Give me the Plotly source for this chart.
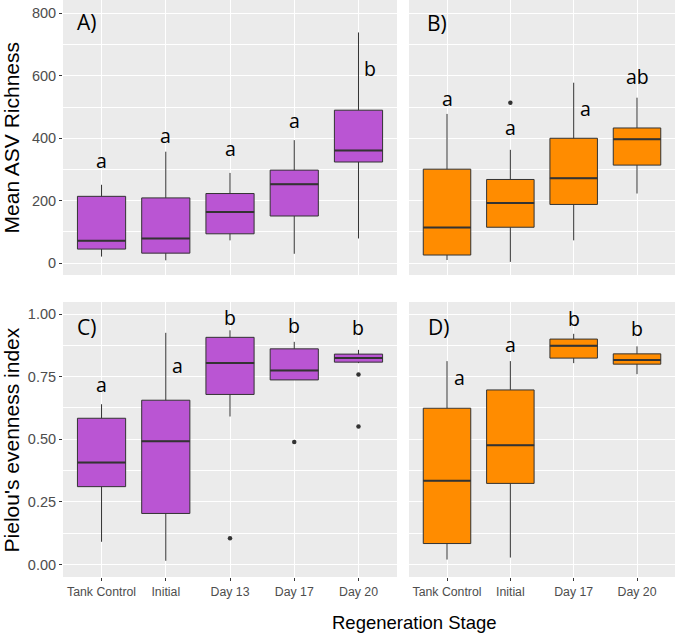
import plotly.graph_objects as go

# ---------------- data ----------------
cats_purple = ["Tank Control", "Initial", "Day 13", "Day 17", "Day 20"]
cats_orange = ["Tank Control", "Initial", "Day 17", "Day 20"]

# Panel A: Mean ASV richness (purple)
A_lo = [21, 9, 73, 30, 79]
A_q1 = [45, 32, 94, 151, 324]
A_med = [72, 79, 164, 253, 361]
A_q3 = [214, 209, 223, 298, 490]
A_hi = [251, 357, 289, 394, 739]
A_out_x = []
A_out_y = []
A_letters = ["a", "a", "a", "a", "b"]
A_letter_y = [329, 408, 366, 457, 625]
A_letter_side = [0, 0, 0, 0, 1]

# Panel B: Mean ASV richness (orange)
B_lo = [10, 4, 73, 223]
B_q1 = [26, 115, 188, 314]
B_med = [114, 193, 272, 397]
B_q3 = [301, 268, 400, 433]
B_hi = [478, 363, 578, 530]
B_out_x = ["Initial"]
B_out_y = [514]
B_letters = ["a", "a", "a", "ab"]
B_letter_y = [528, 435, 494, 597]
B_letter_side = [0, 0, 1, 0]

# Panel C: Pielou's evenness (purple)
C_lo = [0.091, 0.015, 0.591, 0.737, 0.804]
C_q1 = [0.311, 0.204, 0.679, 0.737, 0.808]
C_med = [0.407, 0.492, 0.805, 0.775, 0.824]
C_q3 = [0.584, 0.656, 0.907, 0.861, 0.840]
C_hi = [0.640, 0.925, 0.935, 0.889, 0.857]
C_out_x = ["Day 13", "Day 17", "Day 20", "Day 20"]
C_out_y = [0.105, 0.489, 0.759, 0.551]
C_letters = ["a", "a", "b", "b", "b"]
C_letter_y = [0.720, 0.796, 0.988, 0.955, 0.947]
C_letter_side = [0, 1, 0, 0, 0]

# Panel D: Pielou's evenness (orange)
D_lo = [0.020, 0.028, 0.804, 0.760]
D_q1 = [0.084, 0.324, 0.824, 0.800]
D_med = [0.335, 0.476, 0.873, 0.817]
D_q3 = [0.624, 0.697, 0.900, 0.841]
D_hi = [0.812, 0.812, 0.921, 0.871]
D_out_x = []
D_out_y = []
D_letters = ["a", "a", "b", "b"]
D_letter_y = [0.747, 0.877, 0.984, 0.941]
D_letter_side = [1, 0, 0, 0]

panel_labels = ["A)", "B)", "C)", "D)"]
richness_ticks = [0, 200, 400, 600, 800]
evenness_ticks = [0.0, 0.25, 0.50, 0.75, 1.00]

# ---------------- styling ----------------
PURPLE = "#BA55D3"
ORANGE = "#FF8C00"
EDGE = "#333333"
BOXW = 0.75
TICKFONT = dict(family="Liberation Sans, Arial, sans-serif", size=14.5, color="#4D4D4D")
XTICKFONT = dict(family="Liberation Sans, Arial, sans-serif", size=12.3, color="#4D4D4D")
LETTERFONT = dict(family="Open Sans, sans-serif", size=19.5, color="black")

fig = go.Figure()
annotations = []
shapes = []

panels = [
    (cats_purple, A_lo, A_q1, A_med, A_q3, A_hi, A_out_x, A_out_y, A_letters, A_letter_y, A_letter_side, PURPLE, "x", "y"),
    (cats_orange, B_lo, B_q1, B_med, B_q3, B_hi, B_out_x, B_out_y, B_letters, B_letter_y, B_letter_side, ORANGE, "x2", "y2"),
    (cats_purple, C_lo, C_q1, C_med, C_q3, C_hi, C_out_x, C_out_y, C_letters, C_letter_y, C_letter_side, PURPLE, "x3", "y3"),
    (cats_orange, D_lo, D_q1, D_med, D_q3, D_hi, D_out_x, D_out_y, D_letters, D_letter_y, D_letter_side, ORANGE, "x4", "y4"),
]

for (cats, lo, q1, med, q3, hi, ox, oy, letters, ly, lside, color, xa, ya) in panels:
    fig.add_trace(go.Box(
        x=cats, q1=q1, median=med, q3=q3, lowerfence=lo, upperfence=hi,
        fillcolor=color, line=dict(color=EDGE, width=1), boxpoints=False,
        width=BOXW, whiskerwidth=0, xaxis=xa, yaxis=ya, showlegend=False,
        hoverinfo="skip",
    ))
    # thicker median lines (ggplot style)
    for i, m in enumerate(med):
        shapes.append(dict(type="line", xref=xa, yref=ya,
                           x0=i - BOXW / 2, x1=i + BOXW / 2, y0=m, y1=m,
                           line=dict(color=EDGE, width=2)))
    if ox:
        fig.add_trace(go.Scatter(
            x=ox, y=oy, mode="markers", marker=dict(color=EDGE, size=4.5),
            xaxis=xa, yaxis=ya, showlegend=False, hoverinfo="skip",
        ))
    for c, t, y, s in zip(cats, letters, ly, lside):
        annotations.append(dict(x=c, y=y, xref=xa, yref=ya, text=t,
                                showarrow=False, font=LETTERFONT,
                                xanchor="center", yanchor="middle",
                                xshift=12 if s else 0))

# panel labels
label_pos = [(0.039, 0.962), (0.6105, 0.961), (0.0376, 0.4333), (0.614, 0.4333)]
for lab, (px, py) in zip(panel_labels, label_pos):
    annotations.append(dict(x=px, y=py, xref="paper", yref="paper", text=lab,
                            showarrow=False, xanchor="center", yanchor="middle",
                            font=dict(family="Open Sans, sans-serif", size=21, color="black")))

# axis titles
TITLEFONT = dict(family="Liberation Sans, Arial, sans-serif", size=21, color="black")
annotations.append(dict(x=-0.0835, y=0.7617, xref="paper", yref="paper",
                        text="Mean ASV Richness", textangle=-90, showarrow=False,
                        xanchor="center", yanchor="middle", font=TITLEFONT))
annotations.append(dict(x=-0.0835, y=0.2383, xref="paper", yref="paper",
                        text="Pielou's evenness index", textangle=-90, showarrow=False,
                        xanchor="center", yanchor="middle", font=TITLEFONT))
annotations.append(dict(x=0.575, y=-0.0797, xref="paper", yref="paper",
                        text="Regeneration Stage", showarrow=False,
                        xanchor="center", yanchor="middle",
                        font=dict(family="Liberation Sans, Arial, sans-serif", size=18.5, color="black")))

grid = dict(showgrid=True, gridcolor="white", gridwidth=1.1, zeroline=False, showline=False)
minor_r = dict(dtick=100, showgrid=True, gridcolor="white", gridwidth=0.5, ticks="")
minor_e = dict(dtick=0.125, showgrid=True, gridcolor="white", gridwidth=0.5, ticks="")

XA = [0, 0.5458]
XB = [0.5654, 1]
YT = [0.5234, 1]
YB = [0, 0.4766]
r_range = [-38, 843]
e_range = [-0.0496, 1.048]

fig.update_layout(
    width=675, height=638,
    margin=dict(l=63, r=0, t=0, b=61),
    paper_bgcolor="white", plot_bgcolor="#EBEBEB",
    showlegend=False,
    annotations=annotations, shapes=shapes,
    xaxis=dict(domain=XA, anchor="y", type="category", categoryarray=cats_purple,
               categoryorder="array", range=[-0.6, 4.6], showticklabels=False, ticks="", **grid),
    xaxis2=dict(domain=XB, anchor="y2", type="category", categoryarray=cats_orange,
                categoryorder="array", range=[-0.6, 3.6], showticklabels=False, ticks="", **grid),
    xaxis3=dict(domain=XA, anchor="y3", type="category", categoryarray=cats_purple,
                categoryorder="array", range=[-0.6, 4.6], ticks="outside", ticklen=3,
                tickcolor=EDGE, tickwidth=1, tickfont=XTICKFONT, **grid),
    xaxis4=dict(domain=XB, anchor="y4", type="category", categoryarray=cats_orange,
                categoryorder="array", range=[-0.6, 3.6], ticks="outside", ticklen=3,
                tickcolor=EDGE, tickwidth=1, tickfont=XTICKFONT, **grid),
    yaxis=dict(domain=YT, anchor="x", range=r_range, tickvals=richness_ticks,
               ticks="outside", ticklen=3, tickcolor=EDGE, tickwidth=1, tickfont=TICKFONT,
               minor=minor_r, **grid),
    yaxis2=dict(domain=YT, anchor="x2", range=r_range, tickvals=richness_ticks,
                showticklabels=False, ticks="", minor=minor_r, **grid),
    yaxis3=dict(domain=YB, anchor="x3", range=e_range, tickvals=evenness_ticks,
                tickformat=".2f", ticks="outside", ticklen=3, tickcolor=EDGE, tickwidth=1,
                tickfont=TICKFONT, minor=minor_e, **grid),
    yaxis4=dict(domain=YB, anchor="x4", range=e_range, tickvals=evenness_ticks,
                showticklabels=False, ticks="", minor=minor_e, **grid),
)

fig.write_html(
    "out.html",
    config={"displayModeBar": False},
    post_script="document.body.style.margin='0';document.body.style.overflow='hidden';",
)
